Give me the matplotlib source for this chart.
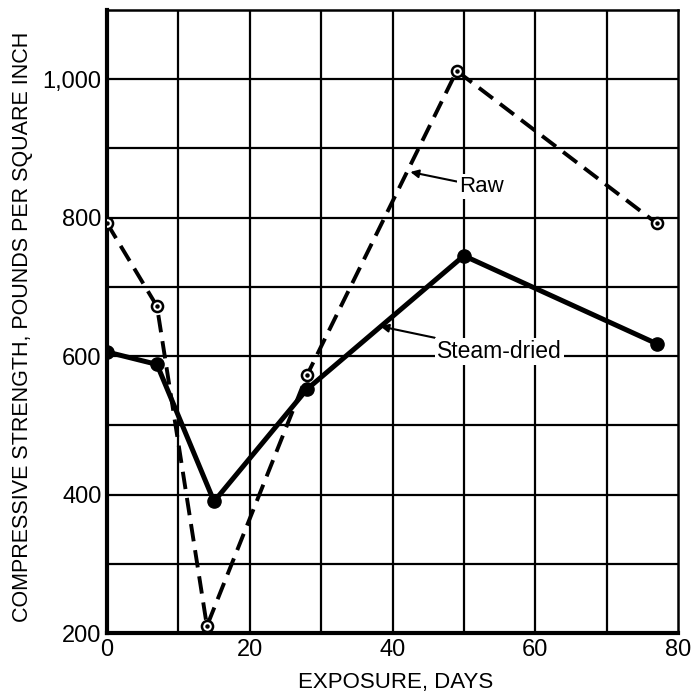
import matplotlib.pyplot as plt
import numpy as np

plt.rcParams['font.family'] = ['Liberation Sans', 'DejaVu Sans']

# exposure (days) and compressive strength (psi)
raw_days = [0, 7, 14, 28, 49, 77]
raw_strength = [792, 672, 210, 572, 1012, 792]

steam_days = [0, 7, 15, 28, 50, 77]
steam_strength = [606, 588, 390, 552, 745, 618]

xticks = [0, 20, 40, 60, 80]
yticks = [200, 400, 600, 800, 1000]
ytick_labels = ["200", "400", "600", "800", "1,000"]

fig = plt.figure(figsize=(6.96, 6.93), dpi=100)
ax = fig.add_axes([107/696, 1 - 633/693, (678-107)/696, (633-10)/693])

ax.set_xlim(0, 80)
ax.set_ylim(200, 1100)

# grid every 10 days / 100 psi
for gx in np.arange(10, 80, 10):
    ax.axvline(gx, color='black', lw=1.6, zorder=1)
for gy in np.arange(300, 1100, 100):
    ax.axhline(gy, color='black', lw=1.6, zorder=1)

ax.plot(raw_days, raw_strength, color='black', lw=2.8, ls=(0, (4.5, 2.3)), zorder=3)
ax.plot(raw_days, raw_strength, ls='none', marker='o', ms=8, mfc='white',
        mec='black', mew=1.8, zorder=5)
ax.plot(raw_days, raw_strength, ls='none', marker='o', ms=2.2, color='black', zorder=6)

ax.plot(steam_days, steam_strength, color='black', lw=3.6, marker='o', ms=9.5,
        zorder=4, solid_joinstyle='round')

bbox = dict(facecolor='white', edgecolor='none', pad=1.5)
ax.annotate("Raw", xy=(42.5, 866), xytext=(49.3, 845), fontsize=16,
            va='center', ha='left', bbox=bbox, zorder=7,
            arrowprops=dict(arrowstyle='-|>', color='black', lw=1.5,
                            shrinkA=0, shrinkB=0, mutation_scale=12))
ax.annotate("Steam-dried", xy=(38.3, 643), xytext=(46.2, 607), fontsize=16.5,
            va='center', ha='left', bbox=bbox, zorder=7,
            arrowprops=dict(arrowstyle='-|>', color='black', lw=1.5,
                            shrinkA=0, shrinkB=0, mutation_scale=12))

ax.set_xticks(xticks)
ax.set_yticks(yticks)
ax.set_yticklabels(ytick_labels)
ax.tick_params(length=0, labelsize=17, pad=4)

for s in ['left', 'bottom']:
    ax.spines[s].set_linewidth(3)
for s in ['top', 'right']:
    ax.spines[s].set_linewidth(1.8)

ax.set_xlabel("EXPOSURE, DAYS", fontsize=16)
ax.set_ylabel("COMPRESSIVE STRENGTH, POUNDS PER SQUARE INCH", fontsize=15.5)
ax.xaxis.set_label_coords(0.505, -0.062)
ax.yaxis.set_label_coords(-0.13, 0.491)

fig.savefig("out.png", dpi=100)
